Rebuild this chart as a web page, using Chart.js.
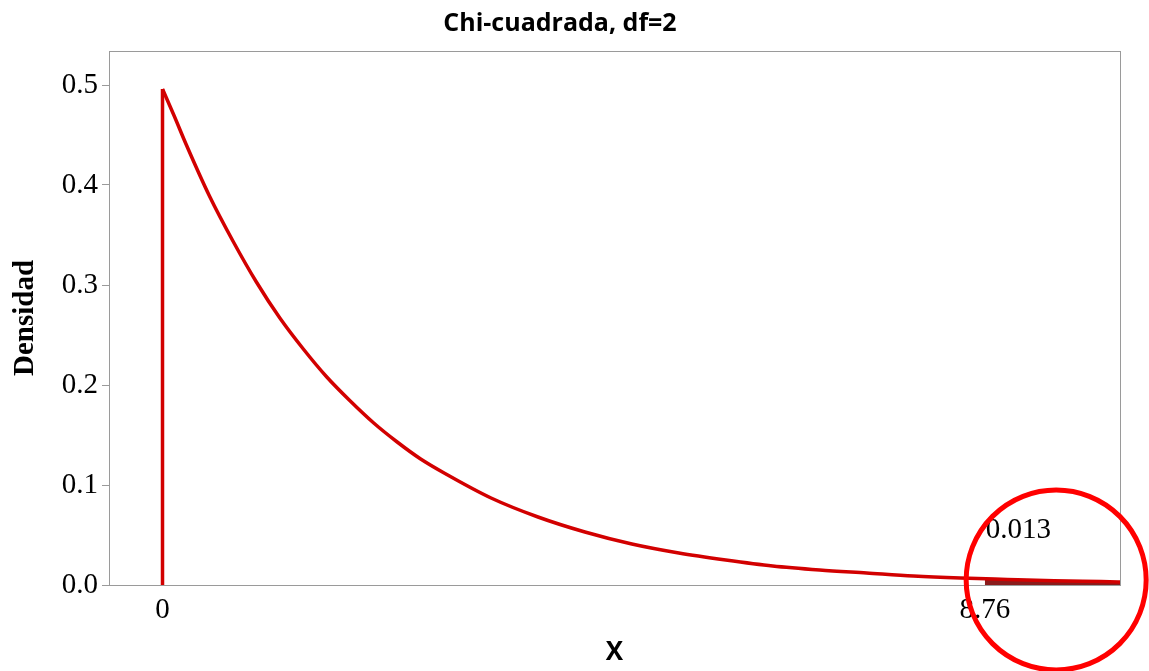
<!DOCTYPE html>
<html>
<head>
<meta charset="utf-8">
<script src="https://cdn.jsdelivr.net/npm/chart.js@4.4.1/dist/chart.umd.min.js"></script>
<style>
  html, body { margin: 0; padding: 0; background: #fff; }
  #wrap { width: 1149px; height: 671px; }
</style>
</head>
<body>
<div id="wrap"><canvas id="chiChart" width="1149" height="671"></canvas></div>
<script>
// values
const xValues = [0, 0.125, 0.25, 0.5, 0.75, 1, 1.25, 1.5, 1.75, 2, 2.25, 2.5, 2.75, 3, 3.5, 4, 4.5, 5, 5.5, 6, 6.5, 7, 7.5, 8, 8.5, 9, 9.5, 10, 10.2];
const densValues = [0.496, 0.469, 0.441, 0.389, 0.344, 0.303, 0.267, 0.236, 0.208, 0.184, 0.162, 0.143, 0.126, 0.112, 0.087, 0.068, 0.053, 0.041, 0.032, 0.025, 0.019, 0.015, 0.012, 0.009, 0.007, 0.0056, 0.0043, 0.0034, 0.003];
const edgeX = [0, 0];
const edgeDens = [0, 0.496];
const tailX = [8.76, 9, 9.5, 10, 10.2];
const tailDens = [0.0063, 0.0056, 0.0043, 0.0034, 0.003];
const xTicks = [0, 8.76];
const yTicks = [0, 0.1, 0.2, 0.3, 0.4, 0.5];
const tailLabel = '0.013';

const toPoints = (xs, ys) => xs.map((x, i) => ({ x: x, y: ys[i] }));

const serif = '"Liberation Serif", "Times New Roman", serif';
const sans = '"Open Sans", "Noto Sans", sans-serif';
const red = '#d20000';

// frame around the plot + red circle annotation
const extras = {
    id: 'extras',
    beforeDatasetsDraw(chart) {
        const { ctx, chartArea: a } = chart;
        ctx.save();
        ctx.strokeStyle = '#9a9a9a';
        ctx.lineWidth = 1;
        ctx.strokeRect(a.left + 0.5, a.top + 0.5, a.right - a.left, a.bottom - a.top);
        ctx.restore();
    },
    afterDraw(chart) {
        const { ctx } = chart;
        const xs = chart.scales.x, ys = chart.scales.y;
        ctx.save();
        ctx.fillStyle = '#000';
        ctx.font = '29px ' + serif;
        ctx.textAlign = 'left';
        ctx.textBaseline = 'middle';
        ctx.fillText(tailLabel, xs.getPixelForValue(8.76) + 1, ys.getPixelForValue(0.055));
        ctx.beginPath();
        ctx.arc(xs.getPixelForValue(9.52), ys.getPixelForValue(0.005), 90, 0, Math.PI * 2);
        ctx.strokeStyle = '#ff0000';
        ctx.lineWidth = 5;
        ctx.stroke();
        ctx.restore();
    }
};

new Chart(document.getElementById('chiChart'), {
    type: 'scatter',
    data: {
        datasets: [{
            data: toPoints(tailX, tailDens),
            showLine: true,
            borderColor: 'rgba(0,0,0,0)',
            backgroundColor: '#8a1c1c',
            fill: 'origin',
            pointRadius: 0,
            borderWidth: 0,
            order: 3
        }, {
            data: toPoints(edgeX, edgeDens),
            showLine: true,
            borderColor: red,
            borderWidth: 3.5,
            pointRadius: 0,
            fill: false,
            order: 2
        }, {
            data: toPoints(xValues, densValues),
            showLine: true,
            borderColor: red,
            borderWidth: 3.5,
            pointRadius: 0,
            fill: false,
            cubicInterpolationMode: 'monotone',
            order: 1
        }]
    },
    options: {
        responsive: false,
        animation: false,
        layout: { padding: { left: 0, right: 29, top: 0, bottom: 0 } },
        plugins: {
            legend: { display: false },
            tooltip: { enabled: false },
            title: {
                display: true,
                text: 'Chi-cuadrada, df=2',
                color: '#000',
                font: { family: sans, size: 25, weight: 'bold' },
                padding: { top: 9, bottom: 12 }
            }
        },
        scales: {
            x: {
                type: 'linear',
                min: -0.57,
                max: 10.2,
                afterBuildTicks: s => { s.ticks = xTicks.map(v => ({ value: v })); },
                afterFit: s => { s.height = 86; },
                ticks: {
                    color: '#000',
                    font: { family: serif, size: 29 },
                    padding: 8,
                    callback: v => String(v)
                },
                grid: { display: false, drawTicks: false },
                border: { display: false },
                title: {
                    display: true,
                    text: 'X',
                    color: '#000',
                    font: { family: sans, size: 26, weight: 'bold' },
                    padding: { top: 0, bottom: 3 }
                }
            },
            y: {
                min: 0,
                max: 0.534,
                afterBuildTicks: s => { s.ticks = yTicks.map(v => ({ value: v })); },
                afterFit: s => { s.width = 109; },
                ticks: {
                    color: '#000',
                    font: { family: serif, size: 29 },
                    padding: 4,
                    callback: v => v.toFixed(1)
                },
                grid: { drawOnChartArea: false, tickLength: 7, color: '#9a9a9a' },
                border: { display: false },
                title: {
                    display: true,
                    text: 'Densidad',
                    color: '#000',
                    font: { family: serif, size: 29, weight: 'bold' },
                    padding: { top: 8, bottom: 0 }
                }
            }
        }
    },
    plugins: [extras]
});
</script>
</body>
</html>
